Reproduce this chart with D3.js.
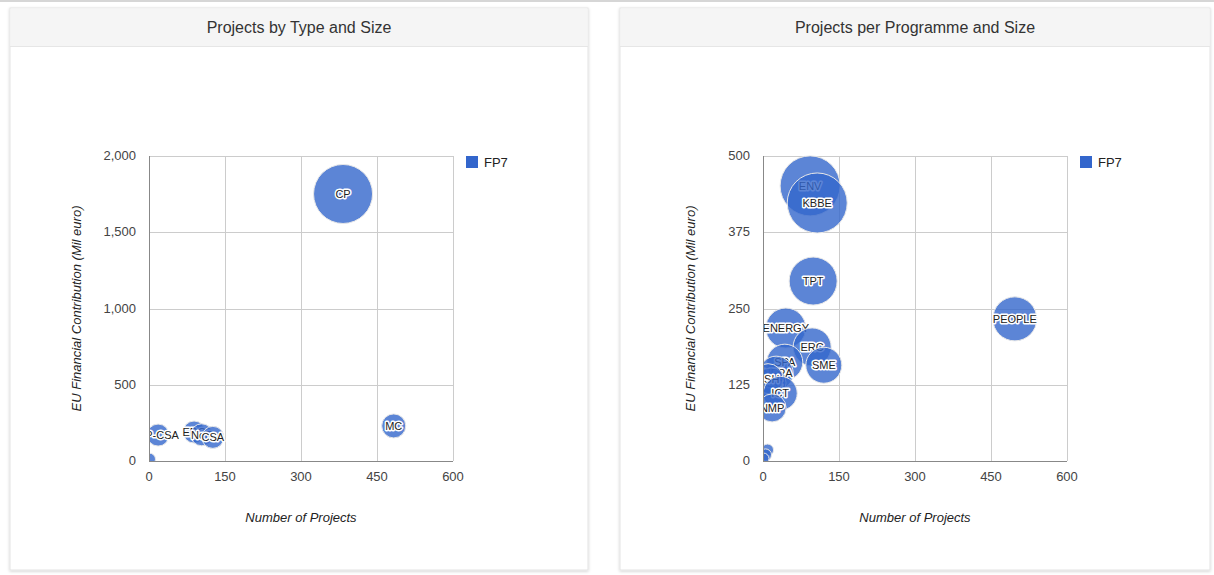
<!DOCTYPE html>
<html lang="en">
<head>
<meta charset="UTF-8">
<title>Projects by Type / Programme and Size</title>
<style>
  body, html { margin: 0; padding: 0; background: #fff; overflow: hidden; }
  svg { display: block; font-family: Arial, "Liberation Sans", sans-serif; }
  .tick-label { font-size: 13px; fill: #444; }
  .axis-title { font-size: 13px; font-style: italic; fill: #222; }
  .bubble-label { font-size: 11px; fill: #222; stroke: #fff; stroke-width: 3px; paint-order: stroke; stroke-linejoin: round; }
  .panel-title { font-size: 16px; fill: #333; }
</style>
</head>
<body>
<svg width="1214" height="575"></svg>
<script src="https://d3js.org/d3.v7.min.js"></script>
<script>
// ---- data: chart 1, projects by type ----
const typeNames   = ['CP', 'MC', 'CP-CSA', 'ERC', 'NoE', 'CSA', 'BSG'];
const typeLabels  = ['CP', 'MC', 'CP-CSA', 'ERC', 'NoE', 'CSA', ''];
const typeCount   = [383, 483, 18, 89, 104, 126, 1];
const typeFunding = [1751, 230, 170, 190, 172, 155, 12];
const typeSize    = [98, 28, 24, 24, 24, 24, 4];

// ---- data: chart 2, projects per programme ----
const progNames   = ['ENV', 'KBBE', 'TPT', 'PEOPLE', 'ENERGY', 'ERC', 'SME', 'SPA', 'INFRA', 'SEC', 'SSH', 'ICT', 'NMP', 'SiS', 'REGIONS', 'COH'];
const progLabels  = ['ENV', 'KBBE', 'TPT', 'PEOPLE', 'ENERGY', 'ERC', 'SME', 'SPA', 'INFRA', 'SEC', 'SSH', 'ICT', 'NMP', '', '', ''];
const progCount   = [93, 107, 99, 497, 45, 97, 120, 43, 26, 16, 10, 34, 18, 9, 5, 1];
const progFunding = [451, 423, 295, 233, 218, 187, 157, 162, 144, 128, 135, 111, 87, 18, 10, 4];
const progSize    = [100, 100, 76, 68, 60, 56, 52, 52, 48, 40, 40, 48, 36, 4, 4, 2];

const seriesName = 'FP7';
const xTicks = [0, 150, 300, 450, 600];
const yTicks1 = [0, 500, 1000, 1500, 2000];
const yTicks2 = [0, 125, 250, 375, 500];

const svg = d3.select('svg');

// drop shadow for panels
const defs = svg.append('defs');
const f = defs.append('filter').attr('id', 'shadow').attr('x', '-5%').attr('y', '-5%').attr('width', '110%').attr('height', '110%');
f.append('feDropShadow').attr('dx', 0).attr('dy', 1).attr('stdDeviation', 1.5).attr('flood-color', '#000').attr('flood-opacity', 0.18);

// thin line at very top of the page
svg.append('rect').attr('x', 0).attr('y', 0).attr('width', 1214).attr('height', 2).attr('fill', '#d6d6d6');

function panel(x0, w, title) {
  const g = svg.append('g');
  g.append('rect').attr('x', x0).attr('y', 8).attr('width', w).attr('height', 562)
    .attr('fill', '#fff').attr('stroke', '#e3e3e3').attr('filter', 'url(#shadow)');
  g.append('rect').attr('x', x0 + 0.5).attr('y', 8.5).attr('width', w - 1).attr('height', 38)
    .attr('fill', '#f5f5f5');
  g.append('line').attr('x1', x0).attr('x2', x0 + w).attr('y1', 46.5).attr('y2', 46.5).attr('stroke', '#e6e6e6');
  g.append('text').attr('class', 'panel-title').attr('x', x0 + w / 2).attr('y', 33)
    .attr('text-anchor', 'middle').text(title);
}

function bubbleChart(id, left, names, labels, counts, funding, sizes, yTicks, yFmt) {
  const top = 156, bottom = 461, right = left + 304;
  const x = d3.scaleLinear().domain([0, 600]).range([left, right]);
  const y = d3.scaleLinear().domain([0, yTicks[yTicks.length - 1]]).range([bottom, top]);
  const r = d3.scaleLinear().domain([0, 100]).range([5, 30]);

  const g = svg.append('g');

  // gridlines
  g.selectAll('.vgrid').data(xTicks.slice(1)).enter().append('line')
    .attr('x1', d => Math.round(x(d)) + 0.5).attr('x2', d => Math.round(x(d)) + 0.5)
    .attr('y1', top).attr('y2', bottom).attr('stroke', '#ccc');
  g.selectAll('.hgrid').data(yTicks.slice(1)).enter().append('line')
    .attr('x1', left).attr('x2', right)
    .attr('y1', d => Math.round(y(d)) + 0.5).attr('y2', d => Math.round(y(d)) + 0.5).attr('stroke', '#ccc');

  // tick labels
  g.selectAll('.xt').data(xTicks).enter().append('text').attr('class', 'tick-label')
    .attr('x', d => x(d)).attr('y', bottom + 20).attr('text-anchor', 'middle')
    .text(d => d3.format(',')(d));
  g.selectAll('.yt').data(yTicks).enter().append('text').attr('class', 'tick-label')
    .attr('x', left - 13).attr('y', d => y(d) + 4).attr('text-anchor', 'end')
    .text(d => yFmt(d));

  // axis titles
  g.append('text').attr('class', 'axis-title').attr('x', (left + right) / 2).attr('y', bottom + 61)
    .attr('text-anchor', 'middle').text('Number of Projects');
  g.append('text').attr('class', 'axis-title')
    .attr('transform', `translate(${left - 68},${(top + bottom) / 2}) rotate(-90)`)
    .attr('text-anchor', 'middle').text('EU Financial Contribution (Mil euro)');

  // bubbles, each drawn with its label so later bubbles cover earlier labels
  const data = names.map((n, i) => ({ name: n, label: labels[i], x: counts[i], y: funding[i], s: sizes[i] }));
  defs.append('clipPath').attr('id', 'clip' + id).append('rect')
    .attr('x', left).attr('y', top - 40).attr('width', right - left + 40).attr('height', bottom - top + 40);
  const bg = g.append('g').attr('clip-path', `url(#clip${id})`);
  const item = bg.selectAll('g.bubble').data(data).enter().append('g').attr('class', 'bubble');
  item.append('circle')
    .attr('cx', d => x(d.x)).attr('cy', d => y(d.y)).attr('r', d => r(d.s))
    .attr('fill', '#3366cc').attr('fill-opacity', 0.8).attr('stroke', '#e8e8e8').attr('stroke-width', 1);
  item.append('text').attr('class', 'bubble-label')
    .attr('x', d => x(d.x)).attr('y', d => y(d.y) + 4).attr('text-anchor', 'middle')
    .text(d => d.label);

  // baselines
  g.append('line').attr('x1', left + 0.5).attr('x2', left + 0.5).attr('y1', top).attr('y2', bottom).attr('stroke', '#888');
  g.append('line').attr('x1', left).attr('x2', right).attr('y1', bottom + 0.5).attr('y2', bottom + 0.5).attr('stroke', '#888');

  // legend
  g.append('rect').attr('x', right + 13).attr('y', 156).attr('width', 12).attr('height', 12).attr('fill', '#3366cc');
  g.append('text').attr('x', right + 31).attr('y', 167).attr('font-size', 13).attr('fill', '#222').text(seriesName);
}

panel(10, 578, 'Projects by Type and Size');
panel(620, 590, 'Projects per Programme and Size');

bubbleChart(1, 149, typeNames, typeLabels, typeCount, typeFunding, typeSize, yTicks1, d3.format(','));
bubbleChart(2, 763, progNames, progLabels, progCount, progFunding, progSize, yTicks2, d3.format(','));
</script>
</body>
</html>
